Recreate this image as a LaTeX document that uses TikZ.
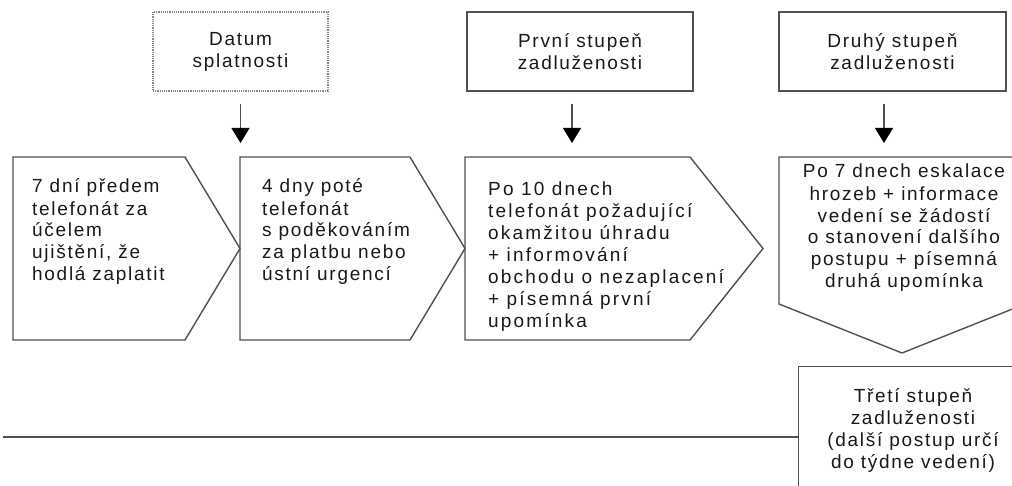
\documentclass[tikz,border=0pt]{standalone}
\usepackage{fontspec}
\setmainfont[LetterSpace=9]{Liberation Sans}
\usepackage{tikz}
\usetikzlibrary{arrows.meta}
\definecolor{linegray}{RGB}{80,80,80}
\definecolor{textgray}{RGB}{25,25,25}

\begin{document}
\begin{tikzpicture}[x=1pt, y=-1pt,
font=\fontsize{19}{22}\selectfont, text=textgray,
stage/.style={rectangle, draw=linegray, line width=1.2pt, minimum width=#1, minimum height=79pt, align=center},
stepline/.style={draw=linegray, line width=1.4pt, line join=miter},
steptext/.style={anchor=base west, align=left, inner sep=0pt},
midtext/.style={anchor=base, align=center, inner sep=0pt},
arrow/.style={-{Triangle[width=18pt,length=15pt,color=black]}, line width=1.3pt, draw=linegray, shorten <=12pt, shorten >=14pt}
]
\clip (0,0) rectangle (1012,486);

% Stages
\node[stage=175pt, draw=linegray!70, densely dotted] (datum) at (240.5,51.5) {Datum\\splatnosti};
\node[stage=226pt] (prvni) at (580,51.5) {První stupeň\\zadluženosti};
\node[stage=227pt] (druhy) at (892.5,51.5) {Druhý stupeň\\zadluženosti};

% Steps
\draw[stepline] (13,157) -- (185,157) -- (240,248.5) -- (185,340) -- (13,340) -- cycle;
\draw[stepline] (240,157) -- (410,157) -- (465,248.5) -- (410,340) -- (240,340) -- cycle;
\draw[stepline] (465,157) -- (690,157) -- (763,248.5) -- (690,340) -- (465,340) -- cycle;
\draw[stepline] (779,157) -- (1025,157) -- (1025,304) -- (902,353) -- (779,304) -- cycle;
\coordinate (c2top) at (240,157);
\coordinate (c3top) at (572,157);
\coordinate (c4top) at (884,157);

% Texts (base = last line)
\node[steptext] (t1) at (32,281) {7 dní předem\\telefonát za\\účelem\\ujištění, že\\hodlá zaplatit};
\node[steptext] (t2) at (262,281) {4 dny poté\\telefonát\\s poděkováním\\za platbu nebo\\ústní urgencí};
\node[steptext, font=\fontsize{19}{22}\selectfont\addfontfeatures{LetterSpace=11.5}] (t3) at (488,327) {Po 10 dnech\\telefonát požadující\\okamžitou úhradu\\+ informování\\obchodu o nezaplacení\\+ písemná první\\upomínka};
\node[midtext] (t4) at (904,288) {Po 7 dnech eskalace\\hrozeb + informace\\vedení se žádostí\\o stanovení dalšího\\postupu + písemná\\druhá upomínka};

% Third stage
\node[stepline, minimum width=230pt, minimum height=150pt, anchor=north west] (treti) at (798,366) {};
\node[midtext] (t5) at (913,468) {Třetí stupeň\\zadluženosti\\(další postup určí\\do týdne vedení)};
\coordinate (lstart) at (3,437);

% Arrows
\draw[arrow] (datum) -- (datum |- c2top);
\draw[arrow] (prvni.south -| c3top) -- (c3top);
\draw[arrow] (druhy.south -| c4top) -- (c4top);
\draw[stepline] (lstart) -- (lstart -| treti.west);

\end{tikzpicture}
\end{document}
